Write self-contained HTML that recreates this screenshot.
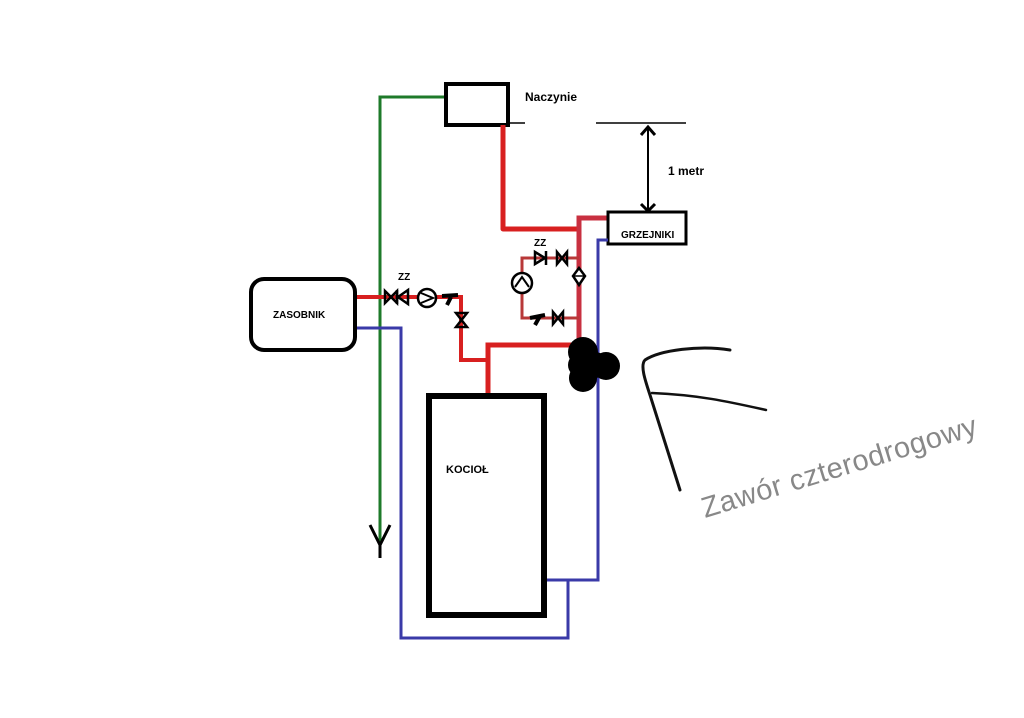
<!DOCTYPE html>
<html><head><meta charset="utf-8"><style>
html,body{margin:0;padding:0;background:#fff;}
svg{display:block;}
text{font-family:"Liberation Sans",sans-serif;}
</style></head><body>
<svg width="1024" height="718" viewBox="0 0 1024 718" xmlns="http://www.w3.org/2000/svg">
<rect width="1024" height="718" fill="#fff"/>
<polyline points="445,97 380,97 380,555" fill="none" stroke="#1e7a2a" stroke-width="3"/>
<path d="M370,525 L380,545 L390,525 M380,545 L380,558" fill="none" stroke="#000" stroke-width="3"/>
<rect x="446" y="84" width="62" height="41" fill="none" stroke="#000" stroke-width="4"/>
<line x1="508" y1="123" x2="525" y2="123" stroke="#000" stroke-width="1.5"/>
<text x="525" y="101" font-size="12" font-weight="bold">Naczynie</text>
<line x1="596" y1="123" x2="686" y2="123" stroke="#000" stroke-width="1.5"/>
<line x1="648" y1="126" x2="648" y2="212" stroke="#000" stroke-width="2"/>
<path d="M641,135 L648,127 L655,135 M641,204 L648,211 L655,204" fill="none" stroke="#000" stroke-width="3"/>
<text x="668" y="175" font-size="12" font-weight="bold">1 metr</text>
<polyline points="503,125 503,229 579,229" fill="none" stroke="#d82020" stroke-width="5" stroke-linejoin="round"/>
<polyline points="608,218 579,218 579,345" fill="none" stroke="#c83040" stroke-width="5"/>
<polyline points="579,258 522,258 522,318 579,318" fill="none" stroke="#b83838" stroke-width="3"/>
<circle cx="522" cy="283" r="10" fill="#fff" stroke="#000" stroke-width="2.5"/>
<path d="M515,287 L522,277 L529,287" fill="none" stroke="#000" stroke-width="2"/>
<path d="M535,252 L545,258 L535,264 Z M546,251 L546,265" fill="none" stroke="#000" stroke-width="2.5"/>
<path d="M557,252 L567,264 L567,252 L557,264 Z" fill="none" stroke="#000" stroke-width="2.5"/>
<path d="M579,268 L585,276 L579,285 L573,276 Z" fill="#fff" stroke="#000" stroke-width="2.5"/>
<line x1="573" y1="276" x2="585" y2="276" stroke="#000" stroke-width="1.5"/>
<path d="M530,318 L545,315 M535,325 L540,316" stroke="#000" stroke-width="4"/>
<path d="M553,312 L563,324 L563,312 L553,324 Z" fill="none" stroke="#000" stroke-width="2.5"/>
<text x="534" y="246" font-size="10" font-weight="bold">ZZ</text>
<rect x="608" y="212" width="78" height="32" fill="#fff" stroke="#000" stroke-width="3"/>
<text x="621" y="238" font-size="10" font-weight="bold">GRZEJNIKI</text>
<polyline points="608,240 598,240 598,580 545,580" fill="none" stroke="#3a3aa8" stroke-width="3"/>
<polyline points="568,580 568,638 401,638 401,328 357,328" fill="none" stroke="#3a3aa8" stroke-width="3"/>
<rect x="251" y="279" width="104" height="71" rx="13" fill="#fff" stroke="#000" stroke-width="4"/>
<text x="273" y="318" font-size="10" font-weight="bold">ZASOBNIK</text>
<polyline points="357,297 461,297 461,360 488,360" fill="none" stroke="#d82020" stroke-width="4"/>
<polyline points="488,395 488,345 579,345" fill="none" stroke="#d82020" stroke-width="5"/>
<path d="M385,291 L397,303 L397,291 L385,303 Z" fill="none" stroke="#000" stroke-width="2.5"/>
<path d="M408,290 L398,297 L408,304 Z M397,290 L397,304" fill="none" stroke="#000" stroke-width="2.5"/>
<circle cx="427" cy="298" r="9" fill="#fff" stroke="#000" stroke-width="2.5"/>
<path d="M421,293 L433,298 L421,303" fill="none" stroke="#000" stroke-width="2"/>
<path d="M442,296 L458,295 M447,305 L451,297" stroke="#000" stroke-width="4"/>
<path d="M456,313 L467,327 L456,327 L467,313 Z" fill="none" stroke="#000" stroke-width="2.5"/>
<text x="398" y="280" font-size="10" font-weight="bold">ZZ</text>
<rect x="429" y="396" width="115" height="219" fill="#fff" stroke="#000" stroke-width="6"/>
<text x="446" y="473" font-size="11" font-weight="bold">KOCIOŁ</text>
<g fill="#000"><circle cx="583" cy="352" r="15"/><circle cx="606" cy="366" r="14"/><circle cx="583" cy="378" r="14"/><circle cx="580" cy="365" r="12"/><circle cx="595" cy="365" r="13"/></g>
<path d="M730,350 C700,345 660,350 645,360 C640,365 645,380 650,395 L680,490" fill="none" stroke="#111" stroke-width="3" stroke-linecap="round"/>
<path d="M652,393 C700,395 730,402 766,410" fill="none" stroke="#111" stroke-width="2.5" stroke-linecap="round"/>
<text x="0" y="0" font-size="29" fill="#888" transform="translate(705,518) rotate(-17)" letter-spacing="0.5">Zawór czterodrogowy</text>
</svg>
</body></html>
